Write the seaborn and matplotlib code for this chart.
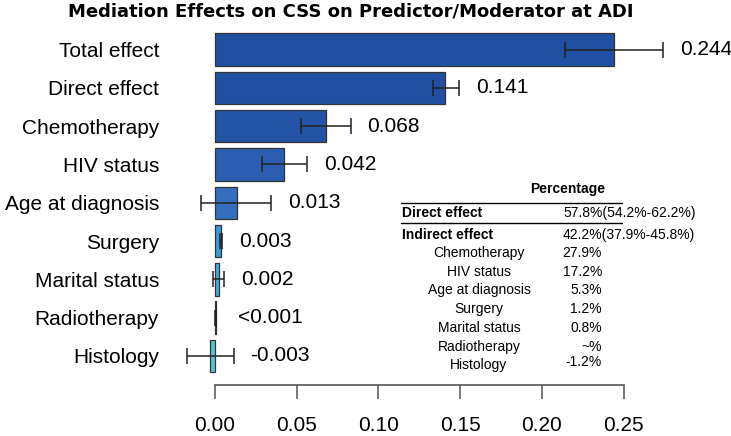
import numpy as np
import pandas as pd
import seaborn as sns
import matplotlib.pyplot as plt
from matplotlib.lines import Line2D

# bar chart data
categories = ["Total effect", "Direct effect", "Chemotherapy", "HIV status", "Age at diagnosis",
              "Surgery", "Marital status", "Radiotherapy", "Histology"]
effects = [0.244, 0.141, 0.068, 0.0425, 0.0133, 0.0035, 0.0024, 0.0004, -0.0032]
ci_low = [0.214, 0.1336, 0.0528, 0.0288, -0.0086, 0.0031, -0.0010, 0.0002, -0.0170]
ci_high = [0.274, 0.1493, 0.0830, 0.0562, 0.0344, 0.0042, 0.0056, 0.0006, 0.0114]
value_labels = ["0.244", "0.141", "0.068", "0.042", "0.013", "0.003", "0.002", "<0.001", "-0.003"]
bar_colors = ["#2150A2", "#2150A2", "#2354A6", "#2B5EB0", "#356EBF",
              "#3B9BDB", "#41AEE2", "#4DB8DC", "#5BC2D2"]

# table on the right
table_head = "Percentage"
table_main = ["Direct effect", "Indirect effect"]
table_main_values = ["57.8%(54.2%-62.2%)", "42.2%(37.9%-45.8%)"]
table_items = ["Chemotherapy", "HIV status", "Age at diagnosis", "Surgery",
               "Marital status", "Radiotherapy", "Histology"]
table_item_values = ["27.9%", "17.2%", "5.3%", "1.2%", "0.8%", "~%", "-1.2%"]

title = "Mediation Effects on CSS on Predictor/Moderator at ADI"

sns.set_style("white")
plt.rcParams['font.family'] = ['Liberation Sans', 'DejaVu Sans']
plt.rcParams['text.color'] = 'black'
plt.rcParams['xtick.color'] = 'black'
plt.rcParams['ytick.color'] = 'black'

W, H = 731, 436
fig = plt.figure(figsize=(W / 100, H / 100), dpi=100)
ax = fig.add_axes([165 / W, 51 / H, (W - 165) / W, 355 / H])

df = pd.DataFrame({"category": categories, "effect": effects})
sns.barplot(data=df, x="effect", y="category", hue="category", palette=bar_colors,
            legend=False, orient="h", width=0.846, edgecolor="#333333", linewidth=0.9,
            saturation=1, ax=ax)

pos = np.arange(len(categories))
eff = np.array(effects)
lo = np.array(ci_low)
hi = np.array(ci_high)
ax.errorbar(eff, pos, xerr=[eff - lo, hi - eff], fmt="none", ecolor="#222222",
            elinewidth=1.1, capsize=6, capthick=1.1, zorder=5)

for i, lab in enumerate(value_labels):
    ax.annotate(lab, xy=(max(hi[i], 0.004), pos[i]), xytext=(12.2, 0),
                textcoords="offset points", va="center", ha="left", fontsize=15,
                color="black", annotation_clip=False)

ax.set_xlim(-0.0306, (W - 215) / 1634)
ax.set_ylim(8.757, -0.509)
ax.set_xticks([0.00, 0.05, 0.10, 0.15, 0.20, 0.25])
ax.set_xticklabels(["0.00", "0.05", "0.10", "0.15", "0.20", "0.25"])
ax.set_xlabel("")
ax.set_ylabel("")
for s in ["top", "right", "left"]:
    ax.spines[s].set_visible(False)
ax.spines["bottom"].set_bounds(0, 0.25)
ax.spines["bottom"].set_color("#555555")
ax.spines["bottom"].set_linewidth(1.2)
ax.tick_params(axis="x", direction="out", length=10, width=1.1, color="#555555",
               labelcolor="black", pad=12.5, labelsize=15, bottom=True)
ax.tick_params(axis="y", length=0, pad=4.3, labelsize=15, labelcolor="black")

fig.text(351 / W, 1 - 16.5 / H, title, ha="center", va="baseline", fontsize=13,
         fontweight="bold", family="DejaVu Sans", color="black")


def fx(x):
    return x / W


def fy(y):
    return 1 - y / H


# table
fig.text(fx(568), fy(189), table_head, ha="center", va="center", fontsize=10, fontweight="bold")
for yy in [203, 223]:
    fig.add_artist(Line2D([fx(401), fx(622)], [fy(yy), fy(yy)], color="black", lw=1))
for k, (lab, val) in enumerate(zip(table_main, table_main_values)):
    y = 213 + k * 22
    fig.text(fx(402), fy(y), lab, ha="left", va="center", fontsize=10, fontweight="bold")
    fig.text(fx(563), fy(y), val, ha="left", va="center", fontsize=10)
for k, (lab, val) in enumerate(zip(table_items, table_item_values)):
    y = 253 + k * 18.7
    fig.text(fx(479), fy(y), lab, ha="center", va="center", fontsize=10)
    fig.text(fx(602), fy(y - (3 if k == 6 else 0)), val, ha="right", va="center", fontsize=10)

fig.savefig("out.png", dpi=100)
